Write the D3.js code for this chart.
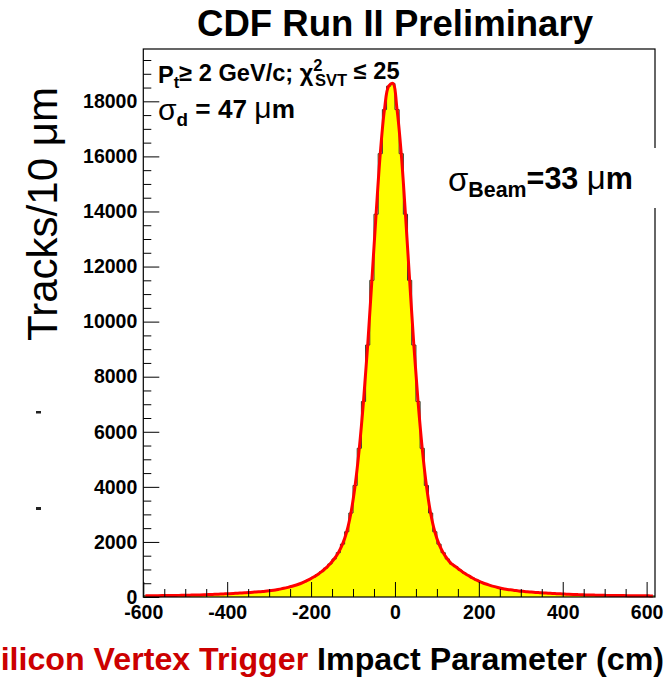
<!DOCTYPE html>
<html>
<head>
<meta charset="utf-8">
<script src="https://cdn.jsdelivr.net/npm/d3@7"></script>
<style>
  html, body { margin: 0; padding: 0; background: #fff; }
  svg { display: block; font-family: "Liberation Sans", Arial, Helvetica, sans-serif; }
</style>
</head>
<body>
<svg id="chart" width="667" height="677"></svg>
<script>
// ---------------- data ----------------
// bin centres (µm), bin width 10
const binCenters = d3.range(-595, 620, 10);
// counts per 10 µm bin (left tail -> right tail)
const counts = [
  43, 45, 47, 49, 51, 53, 55, 57, 59, 62,
  65, 69, 73, 77, 82, 88, 94, 100, 106, 114,
  122, 130, 140, 146, 156, 166, 178, 190, 200, 220,
  235, 255, 285, 315, 350, 390, 435, 490, 555, 630,
  715, 810, 920, 1050, 1200, 1380, 1610, 1920, 2370, 3050,
  4050, 5400, 7100, 9150, 11500, 13900, 16100, 17700, 18550, 18650,
  17700, 16100, 13900, 11500, 9150, 7100, 5400, 4050, 3050, 2370,
  1920, 1610, 1380, 1200, 1100, 980, 870, 780, 690, 610,
  540, 480, 430, 385, 345, 310, 280, 260, 240, 220,
  205, 190, 178, 166, 156, 146, 140, 130, 122, 114,
  106, 100, 94, 88, 82, 77, 73, 69, 65, 62,
  59, 57, 55, 53, 51, 49, 47, 45, 43, 42,
  41, 40
];
const xMajorTicks = [-600, -400, -200, 0, 200, 400, 600];
const xMinorTicks = d3.range(-600, 621, 50);
const yMajorTicks = [0, 2000, 4000, 6000, 8000, 10000, 12000, 14000, 16000, 18000];
const yMinorTicks = d3.range(0, 19901, 500);
const xDomain = [-600, 620];
const yDomain = [0, 19900];

const titleText = "CDF Run II Preliminary";
const yLabelText = "Tracks/10 \u03bcm";
const xLabelRed = "Silicon Vertex Trigger ";
const xLabelBlack = "Impact Parameter (cm)";

// ---------------- layout ----------------
const svg = d3.select("#chart");
const L = 143.3, R = 655, T = 49, B = 597;
const x = d3.scaleLinear().domain(xDomain).range([L, R]);
const y = d3.scaleLinear().domain(yDomain).range([B, T]);

const bins = binCenters.map((c, i) => ({ c, e: c - 5, v: counts[i] }));
const stepPts = bins.map(b => ({ e: b.e, v: b.v }));
stepPts.push({ e: bins[bins.length - 1].e + 10, v: bins[bins.length - 1].v });

// histogram fill
svg.append("path")
  .datum(stepPts)
  .attr("fill", "#ffff00")
  .attr("d", d3.area().curve(d3.curveStepAfter)
    .x(d => x(d.e)).y0(y(0)).y1(d => y(d.v)));
// histogram outline
svg.append("path")
  .datum(stepPts)
  .attr("fill", "none")
  .attr("stroke", "#333")
  .attr("stroke-width", 1)
  .attr("d", d3.line().curve(d3.curveStepAfter).x(d => x(d.e)).y(d => y(d.v)));

// fit curve
svg.append("path")
  .datum(bins)
  .attr("fill", "none")
  .attr("stroke", "#ff0000")
  .attr("stroke-width", 3)
  .attr("stroke-linejoin", "round")
  .attr("d", d3.line().curve(d3.curveCatmullRom.alpha(0.5)).x(d => x(d.c)).y(d => y(d.v)));

// axes (ticks pointing inward)
const tickFont = "bold 19.5px 'Liberation Sans', Arial, sans-serif";
const fmt = d => String(d);
svg.append("g").attr("transform", `translate(0,${B})`)
  .call(d3.axisBottom(x).tickValues(xMajorTicks).tickSize(-15).tickPadding(8).tickFormat(fmt));
svg.append("g").attr("transform", `translate(0,${B})`)
  .call(d3.axisBottom(x).tickValues(xMinorTicks.filter(v => !xMajorTicks.includes(v))).tickSize(-8).tickFormat(""));
svg.append("g").attr("transform", `translate(${L},0)`)
  .call(d3.axisLeft(y).tickValues(yMajorTicks).tickSize(-16).tickPadding(6).tickFormat(fmt));
svg.append("g").attr("transform", `translate(${L},0)`)
  .call(d3.axisLeft(y).tickValues(yMinorTicks.filter(v => !yMajorTicks.includes(v))).tickSize(-8).tickFormat(""));
svg.selectAll(".domain").remove();
svg.selectAll(".tick line").attr("stroke", "#000").attr("stroke-width", 1);
svg.selectAll(".tick text").style("font", tickFont).attr("fill", "#000");

// frame
svg.append("rect").attr("x", L).attr("y", T).attr("width", R - L).attr("height", B - T)
  .attr("fill", "none").attr("stroke", "#000").attr("stroke-width", 1.2);

// helper to fit text to a width
function fit(sel, w, node) {
  const cur = parseFloat(sel.style("font-size"));
  const n = node || sel.node();
  const len = n.getComputedTextLength();
  sel.style("font-size", (cur * w / len).toFixed(2) + "px");
}

// title
const title = svg.append("text").attr("x", 395).attr("y", 36).attr("text-anchor", "middle")
  .style("font-weight", "bold").style("font-size", "27px").text(titleText);
fit(title, 396);

// y label
const yl = svg.append("text").attr("transform", "translate(57,214) rotate(-90)")
  .attr("text-anchor", "middle").style("font-size", "38px").text(yLabelText);
fit(yl, 254);

// x label
const xl = svg.append("text").attr("x", 664).attr("y", 670).attr("text-anchor", "end")
  .style("font-weight", "bold").style("font-size", "25px");
xl.append("tspan").attr("fill", "#cc0000").text(xLabelRed);
const xlb = xl.append("tspan").attr("fill", "#000").text(xLabelBlack);
fit(xl, 347, xlb.node());

// annotations (sub/superscript sizes in em so the whole line scales)
const ann1 = svg.append("text").attr("x", 158).attr("y", 83).style("font-weight", "bold").style("font-size", "20px");
ann1.append("tspan").text("P");
ann1.append("tspan").attr("dy", "0.3em").style("font-size", "0.7em").text("t");
ann1.append("tspan").attr("dy", "-0.3em").text("\u2265 2 GeV/c; \u03c7");
ann1.append("tspan").attr("dy", "-0.6em").style("font-size", "0.7em").text("2");
ann1.append("tspan").attr("dy", "0.9em").attr("dx", "-0.45em").style("font-size", "0.7em").text("SVT");
ann1.append("tspan").attr("dy", "-0.3em").text(" \u2264 25");
fit(ann1, 249);

const ann2 = svg.append("text").attr("x", 158).attr("y", 120).style("font-weight", "bold").style("font-size", "21px");
ann2.append("tspan").style("font-weight", "normal").style("font-size", "1.15em").text("\u03c3");
ann2.append("tspan").attr("dy", "0.3em").style("font-size", "0.72em").text("d");
ann2.append("tspan").attr("dy", "-0.3em").text(" = 47 ");
ann2.append("tspan").style("font-weight", "normal").style("font-size", "1.15em").text("\u03bc");
ann2.append("tspan").text("m");
fit(ann2, 137);

// white pave behind sigma beam
svg.append("rect").attr("x", 440).attr("y", 148).attr("width", 222).attr("height", 60).attr("fill", "#fff");
const ann3 = svg.append("text").attr("x", 448).attr("y", 191).style("font-weight", "bold").style("font-size", "24px");
ann3.append("tspan").style("font-weight", "normal").style("font-size", "1.08em").text("\u03c3");
ann3.append("tspan").attr("dy", "0.27em").style("font-size", "0.7em").text("Beam");
ann3.append("tspan").attr("dy", "-0.27em").text("=33 ");
ann3.append("tspan").style("font-weight", "normal").style("font-size", "1.08em").text("\u03bc");
ann3.append("tspan").text("m");
fit(ann3, 185);

// stray marks at left margin
svg.append("rect").attr("x", 36).attr("y", 411).attr("width", 5).attr("height", 2.5).attr("fill", "#222");
svg.append("rect").attr("x", 36).attr("y", 507).attr("width", 5).attr("height", 3).attr("fill", "#222");
</script>
</body>
</html>
